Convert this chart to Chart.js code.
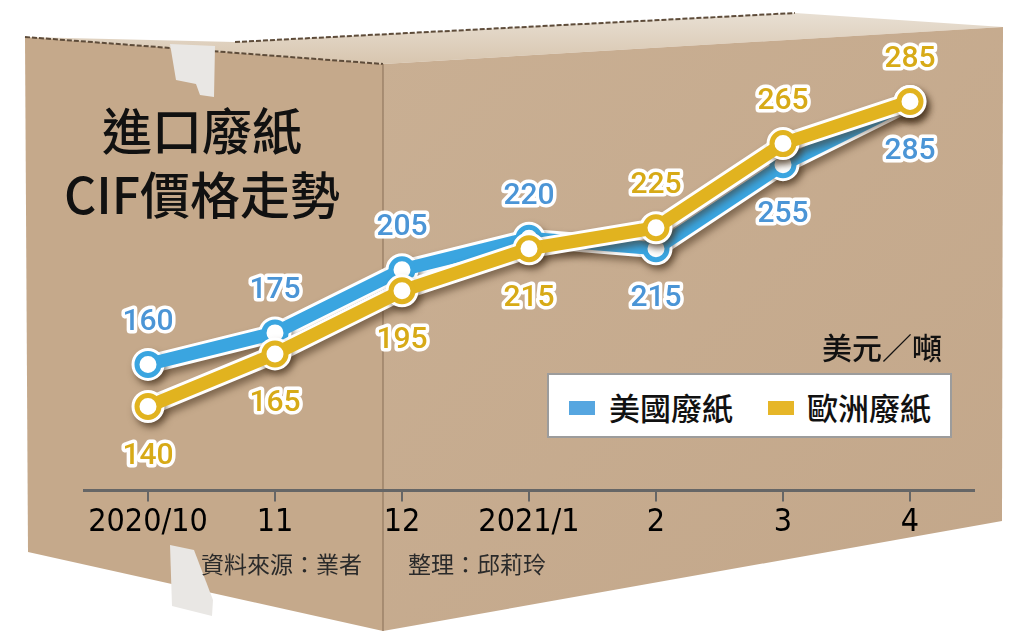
<!DOCTYPE html>
<html>
<head>
<meta charset="utf-8">
<title>進口廢紙CIF價格走勢</title>
<script src="https://cdn.jsdelivr.net/npm/chart.js@4.4.1/dist/chart.umd.min.js"></script>
<style>
    html, body { margin: 0; padding: 0; background: #fff; }
    #wrap { position: relative; width: 1024px; height: 638px; overflow: hidden; }
    #box, #chartBox { position: absolute; left: 0; top: 0; width: 1024px; height: 638px; }
    .txt { position: absolute; font-family: 'Noto Sans CJK TC', 'Noto Sans CJK SC', sans-serif; color: #111; white-space: nowrap; }
    #title { left: 52px; top: 96px; width: 300px; text-align: center; font-size: 50px; line-height: 64px; font-weight: 500; }
    #unit { right: 82px; top: 326px; font-size: 30px; line-height: 40px; font-weight: 500; }
    #source { left: 201px; top: 548px; font-size: 23px; line-height: 30px; color: #2a2a2a; }
    #legend { position: absolute; left: 547px; top: 373px; width: 405px; height: 65px; box-sizing: border-box;
              background: #fff; border: 2px solid #9c9c9c; }
    .sw { position: absolute; top: 26px; width: 26px; height: 14px; }
    .lg { top: 12px; font-size: 31px; line-height: 40px; font-weight: 500; }
</style>
</head>
<body>
<div id="wrap">
    <svg id="box" width="1024" height="638" viewBox="0 0 1024 638">
        <defs>
            <linearGradient id="topFace" x1="0" y1="0" x2="0" y2="1">
                <stop offset="0" stop-color="#e8dfd3"/>
                <stop offset="1" stop-color="#d8c6af"/>
            </linearGradient>
            <linearGradient id="rightFace" x1="0" y1="0" x2="1" y2="1">
                <stop offset="0" stop-color="#c9af93"/>
                <stop offset="1" stop-color="#c3a78a"/>
            </linearGradient>
        </defs>
        <polygon points="25,37 235,42 795,13 1003,27 383,64" fill="url(#topFace)"/>
        <polygon points="25,37 383,64 383,631 28,552" fill="#c5a98b"/>
        <polygon points="383,64 1003,27 1002,521 383,631" fill="url(#rightFace)"/>
        <polyline points="25,37 383,64" fill="none" stroke="#5e4c3a" stroke-width="2" stroke-dasharray="5 2"/>
        <polyline points="235,42 795,13" fill="none" stroke="#5e4c3a" stroke-width="2" stroke-dasharray="5 2"/>
        <line x1="383" y1="64" x2="383" y2="631" stroke="#8a7158" stroke-width="1.5" opacity="0.7"/>
        <polygon points="170,44 215,46 214,97 200,95 196,84 176,80" fill="#e9e7e4"/>
        <polygon points="170,545 194,550 213,600 212,616 172,606" fill="#e9e7e4"/>
    </svg>
    <div id="chartBox"><canvas id="priceChart"></canvas></div>
    <div id="title" class="txt">進口廢紙<br>CIF價格走勢</div>
    <div id="unit" class="txt">美元／噸</div>
    <div id="legend">
        <div class="sw" style="left:20px;background:#56a6e0;"></div>
        <div class="txt lg" style="left:60px;">美國廢紙</div>
        <div class="sw" style="left:219px;background:#e6b628;"></div>
        <div class="txt lg" style="left:258px;">歐洲廢紙</div>
    </div>
    <div id="source" class="txt">資料來源：業者　　整理：邱莉玲</div>
</div>

<script>
'use strict';

var months = ['2020/10', '11', '12', '2021/1', '2', '3', '4'];
var usPrice = [160, 175, 205, 220, 215, 255, 285];
var euPrice = [140, 165, 195, 215, 225, 265, 285];

var usBlue = '#3aa5e0';
var euGold = '#e1b31f';

// white halo + drop shadow under each line
var lineShadow = {
    id: 'lineShadow',
    beforeDatasetDraw: function (chart, args) {
        var ds = chart.data.datasets[args.index];
        if (!ds.outline) { return; }
        var ctx = chart.ctx;
        ctx.save();
        ctx.shadowColor = 'rgba(70, 50, 30, 0.55)';
        ctx.shadowBlur = 7;
        ctx.shadowOffsetX = 3;
        ctx.shadowOffsetY = 5;
    },
    afterDatasetDraw: function (chart, args) {
        var ds = chart.data.datasets[args.index];
        if (ds.outline) { chart.ctx.restore(); }
    }
};

// value labels above / below each point
var pointLabels = {
    id: 'pointLabels',
    afterDatasetsDraw: function (chart) {
        var ctx = chart.ctx;
        var sets = chart.data.datasets;
        ctx.save();
        ctx.font = '500 30px Roboto, "Liberation Sans", sans-serif';
        ctx.textAlign = 'center';
        ctx.textBaseline = 'middle';
        ctx.lineJoin = 'round';
        sets.forEach(function (ds, i) {
            if (ds.outline) { return; }
            var meta = chart.getDatasetMeta(i);
            ds.data.forEach(function (v, j) {
                var o = ds.other[j];
                var above = v !== o ? v > o : ds.tieAbove;
                var pt = meta.data[j];
                var y = above ? pt.y - 42 : pt.y + 50;
                ctx.lineWidth = 7;
                ctx.strokeStyle = '#fff';
                ctx.strokeText(String(v), pt.x, y);
                ctx.fillStyle = ds.labelColor;
                ctx.fillText(String(v), pt.x, y);
            });
        });
        ctx.restore();
    }
};

function lineSet(values, color, order) {
    return {
        data: values,
        borderColor: color,
        borderWidth: 13,
        borderJoinStyle: 'round',
        borderCapStyle: 'round',
        pointRadius: 11,
        pointBorderWidth: 5,
        pointBorderColor: color,
        pointBackgroundColor: '#fff',
        fill: false,
        clip: false,
        order: order
    };
}

function haloSet(values, order) {
    var s = lineSet(values, '#fff', order);
    s.borderWidth = 19;
    s.pointBorderWidth = 11;
    s.outline = true;
    return s;
}

var usLine = lineSet(usPrice, usBlue, 3);
usLine.label = '美國廢紙';
usLine.other = euPrice;
usLine.tieAbove = false;
usLine.labelColor = '#4b95d6';

var euLine = lineSet(euPrice, euGold, 1);
euLine.label = '歐洲廢紙';
euLine.other = usPrice;
euLine.tieAbove = true;
euLine.labelColor = '#d7aa17';

var priceChart = new Chart(document.getElementById('priceChart'), {
    type: 'line',
    data: {
        labels: months,
        datasets: [haloSet(usPrice, 4), usLine, haloSet(euPrice, 2), euLine]
    },
    options: {
        responsive: true,
        maintainAspectRatio: false,
        animation: false,
        events: [],
        layout: { padding: { left: 84.5, right: 50.5, top: 70, bottom: 94 } },
        elements: { line: { tension: 0 } },
        plugins: {
            legend: { display: false },
            tooltip: { enabled: false }
        },
        scales: {
            x: {
                offset: true,
                grid: {
                    offset: false,
                    drawOnChartArea: false,
                    drawTicks: true,
                    tickLength: 11,
                    color: '#666',
                    lineWidth: 2
                },
                border: { display: true, color: '#666', width: 3 },
                ticks: {
                    color: '#000',
                    padding: 2,
                    maxRotation: 0,
                    autoSkip: false,
                    font: { family: '"Liberation Sans Narrow", "DejaVu Sans Condensed", "Liberation Sans", sans-serif', size: 32 }
                }
            },
            y: { display: false, min: 100, max: 300 }
        }
    },
    plugins: [lineShadow, pointLabels]
});
</script>
</body>
</html>
